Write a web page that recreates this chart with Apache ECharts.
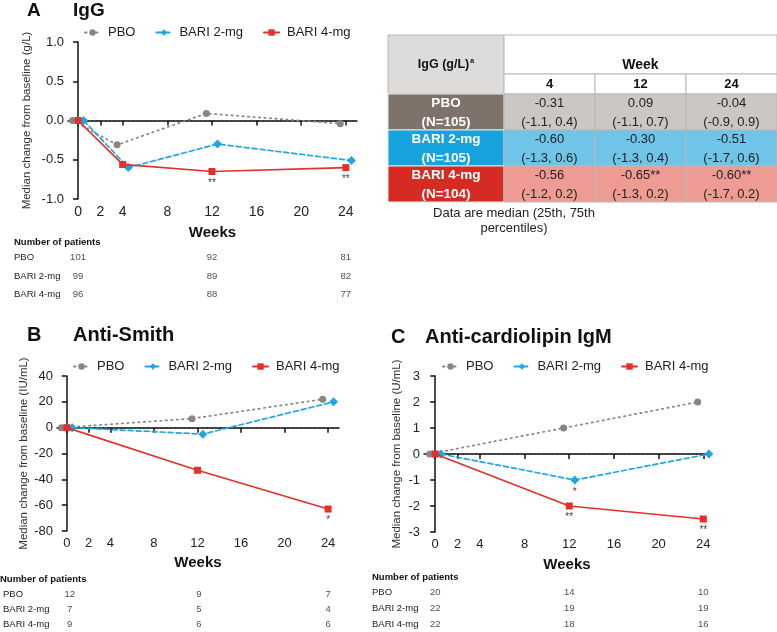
<!DOCTYPE html>
<html><head><meta charset="utf-8">
<script src="https://cdn.jsdelivr.net/npm/echarts@6/dist/echarts.min.js"></script>
<style>html,body{margin:0;padding:0;background:#fff}#c{width:777px;height:632px}</style>
</head><body><div id="c"></div><script>
// ---------- data ----------
const groups = ['PBO', 'BARI 2-mg', 'BARI 4-mg'];
const xTicks = [0, 2, 4, 8, 12, 16, 20, 24];
const countWeeks = [0, 12, 24];

// Panel A: IgG (g/L)
const igWeeks = [0, 4, 12, 24];
const igPBO = [0, -0.31, 0.09, -0.04];
const igB2  = [0, -0.60, -0.30, -0.51];
const igB4  = [0, -0.56, -0.65, -0.60];
const igSigB4 = ['', '', '**', '**'];
const igNPBO = [101, 92, 81];
const igNB2  = [99, 89, 82];
const igNB4  = [96, 88, 77];

// Panel B: Anti-Smith (IU/mL)
const smWeeks = [0, 12, 24];
const smPBO = [0, 7, 22];
const smB2  = [0, -5, 20];
const smB4  = [0, -33, -63];
const smSigB4 = ['', '', '*'];
const smNPBO = [12, 9, 7];
const smNB2  = [7, 5, 4];
const smNB4  = [9, 6, 6];

// Panel C: Anti-cardiolipin IgM (U/mL)
const clWeeks = [0, 12, 24];
const clPBO = [0, 1, 2];
const clB2  = [0, -1, 0];
const clB4  = [0, -2, -2.5];
const clSigB2 = ['', '*', ''];
const clSigB4 = ['', '**', '**'];
const clNPBO = [20, 14, 10];
const clNB2  = [22, 19, 19];
const clNB4  = [22, 18, 16];

// IgG table
const tblWeeks = ['4', '12', '24'];
const tblGroupN = ['(N=105)', '(N=105)', '(N=104)'];
const tblMedian = [['-0.31', '0.09', '-0.04'], ['-0.60', '-0.30', '-0.51'], ['-0.56', '-0.65**', '-0.60**']];
const tblIQR = [['(-1.1, 0.4)', '(-1.1, 0.7)', '(-0.9, 0.9)'], ['(-1.3, 0.6)', '(-1.3, 0.4)', '(-1.7, 0.6)'], ['(-1.2, 0.2)', '(-1.3, 0.2)', '(-1.7, 0.2)']];

// ---------- styles ----------
const FONT = 'Liberation Sans, Arial, sans-serif';
const STY = [
  { color: '#8c8480', type: [1.5, 4], symbol: 'circle', size: 7, dx: -0.5, z: 3 },
  { color: '#1ea7e1', type: [5, 3], symbol: 'diamond', size: 9, dx: 0.5, z: 4 },
  { color: '#e2302b', type: 'solid', symbol: 'rect', size: 7, dx: 0, z: 5 }
];

const chart = echarts.init(document.getElementById('c'), null, { renderer: 'canvas' });

const grids = [], xAxes = [], yAxes = [], series = [], legends = [], graphics = [];

function addPanel(p) {
  const gi = grids.length;
  grids.push({ left: p.left, right: p.right, top: p.top, bottom: p.bottom });
  xAxes.push({
    type: 'value', gridIndex: gi, min: p.xmin, max: p.xmax,
    name: 'Weeks', nameLocation: 'middle', nameGap: p.nameGapX,
    nameTextStyle: { fontFamily: FONT, fontWeight: 'bold', fontSize: 15, color: '#111' },
    axisLine: { lineStyle: { color: '#111', width: 1.5 } },
    axisTick: { customValues: xTicks, length: 5, lineStyle: { color: '#111', width: 1.5 } },
    axisLabel: { customValues: xTicks, fontFamily: FONT, fontSize: p.xFont, color: '#222', margin: 6 },
    splitLine: { show: false }
  });
  yAxes.push({
    type: 'value', gridIndex: gi, min: p.ymin, max: p.ymax, interval: p.yint,
    name: p.yName, nameLocation: 'middle', nameGap: p.nameGapY,
    nameTextStyle: { fontFamily: FONT, fontSize: 11.5, color: '#333' },
    axisLine: { show: true, lineStyle: { color: '#111', width: 1.5 } },
    axisTick: { show: true, length: 5, lineStyle: { color: '#111', width: 1.5 } },
    axisLabel: { fontFamily: FONT, fontSize: 13, color: '#222', margin: 4, formatter: p.yFmt },
    splitLine: { show: false }
  });
  const valsList = [p.pbo, p.b2, p.b4];
  const sigList = [null, p.sigB2, p.sigB4];
  valsList.forEach((vals, k) => {
    const st = STY[k];
    const s = {
      type: 'line', name: groups[k], xAxisIndex: gi, yAxisIndex: gi,
      symbol: st.symbol, symbolSize: st.size, z: st.z, animation: false,
      itemStyle: { color: st.color },
      lineStyle: { color: st.color, type: st.type, width: 1.7, cap: 'round' },
      data: p.weeks.map((w, i) => {
        const d = { value: [w + st.dx, vals[i]] };
        const sig = sigList[k];
        if (sig && sig[i]) {
          d.label = { show: true, position: 'bottom', distance: 3, formatter: sig[i], color: '#444', fontSize: 10, fontFamily: FONT };
        }
        return d;
      })
    };
    if (k === 0) {
      s.markLine = {
        silent: true, symbol: 'none', animation: false, z: 1,
        label: { show: false },
        lineStyle: { color: '#333', type: [1.5, 3], width: 1.5 },
        data: [[{ coord: [0, 0] }, { coord: [p.xmax, 0] }]]
      };
    }
    series.push(s);
  });
  legends.push({
    left: p.legLeft, top: p.legTop, padding: 0, itemWidth: 15, itemHeight: 8, itemGap: 20,
    selectedMode: false, data: groups,
    textStyle: { fontFamily: FONT, fontSize: 13, color: '#222', padding: [0, 0, 0, 3] }
  });

  // patient count table, aligned on the same week scale
  const ci = grids.length;
  grids.push({ left: p.left, right: p.right, top: p.cTop, height: p.cHeight });
  xAxes.push({ type: 'value', gridIndex: ci, min: p.xmin, max: p.xmax, show: false });
  yAxes.push({
    type: 'category', gridIndex: ci, data: groups, inverse: true,
    axisLine: { show: false }, axisTick: { show: false }, splitLine: { show: false },
    axisLabel: { align: 'left', margin: p.cMargin, fontFamily: FONT, fontSize: 9.5, color: '#222' }
  });
  const cdata = [];
  [p.nPBO, p.nB2, p.nB4].forEach((arr, k) => {
    arr.forEach((n, i) => cdata.push([countWeeks[i], groups[k], n]));
  });
  series.push({
    type: 'scatter', xAxisIndex: ci, yAxisIndex: ci, symbolSize: 0, silent: true, animation: false,
    data: cdata,
    label: { show: true, position: 'inside', formatter: q => String(q.value[2]), fontFamily: FONT, fontSize: 9.5, color: '#222' }
  });
  graphics.push({ type: 'text', x: p.cHeadX, y: p.cHeadY, style: { text: 'Number of patients', fontFamily: FONT, fontWeight: 'bold', fontSize: 9.5, fill: '#111', verticalAlign: 'middle' } });
  // panel title
  graphics.push({ type: 'text', x: p.letterX, y: p.titleY, style: { text: p.letter, fontFamily: FONT, fontWeight: 'bold', fontSize: p.titleSize, fill: '#111', verticalAlign: 'middle' } });
  graphics.push({ type: 'text', x: p.titleX, y: p.titleY, style: { text: p.title, fontFamily: FONT, fontWeight: 'bold', fontSize: p.titleSize, fill: '#111', verticalAlign: 'middle' } });
}

addPanel({
  left: 68, right: 420, top: 42, bottom: 433, xmin: -0.9, xmax: 25,
  ymin: -1, ymax: 1, yint: 0.5, yFmt: v => v.toFixed(1), yName: 'Median change from baseline (g/L)',
  nameGapX: 26, nameGapY: 35, xFont: 14,
  weeks: igWeeks, pbo: igPBO, b2: igB2, b4: igB4, sigB2: null, sigB4: igSigB4,
  legLeft: 84, legTop: 26,
  cTop: 248, cHeight: 56, cMargin: 54, nPBO: igNPBO, nB2: igNB2, nB4: igNB4, cHeadX: 14, cHeadY: 242,
  letter: 'A', letterX: 27, title: 'IgG', titleX: 73, titleY: 11, titleSize: 19
});
addPanel({
  left: 57, right: 438, top: 376, bottom: 101, xmin: -0.9, xmax: 25,
  ymin: -80, ymax: 40, yint: 20, yFmt: v => String(v), yName: 'Median change from baseline (IU/mL)',
  nameGapX: 24, nameGapY: 26, xFont: 13,
  weeks: smWeeks, pbo: smPBO, b2: smB2, b4: smB4, sigB2: null, sigB4: smSigB4,
  legLeft: 73, legTop: 360,
  cTop: 587, cHeight: 46, cMargin: 57, nPBO: smNPBO, nB2: smNB2, nB4: smNB4, cHeadX: 0, cHeadY: 579,
  letter: 'B', letterX: 27, title: 'Anti-Smith', titleX: 73, titleY: 335, titleSize: 20
});
addPanel({
  left: 424, right: 67, top: 376, bottom: 100, xmin: -1, xmax: 24.6,
  ymin: -3, ymax: 3, yint: 1, yFmt: v => String(v), yName: 'Median change from baseline (U/mL)',
  nameGapX: 25, nameGapY: 21, xFont: 13,
  weeks: clWeeks, pbo: clPBO, b2: clB2, b4: clB4, sigB2: clSigB2, sigB4: clSigB4,
  legLeft: 442, legTop: 360,
  cTop: 584, cHeight: 50, cMargin: 52, nPBO: clNPBO, nB2: clNB2, nB4: clNB4, cHeadX: 372, cHeadY: 577,
  letter: 'C', letterX: 391, title: 'Anti-cardiolipin IgM', titleX: 425, titleY: 337, titleSize: 20
});

// ---------- IgG summary table ----------
const TB = { x: 388, y: 35, cw: [116, 91, 91, 91], hTop: 39, hWeek: 20, rh: 36 };
const labelFill = ['#7f726b', '#17a3dd', '#d62b22'];
const valueFill = ['#cbc7c3', '#6fc4e7', '#ee9c93'];
const lineCol = '#b8b8b8';
const colX = [TB.x]; TB.cw.forEach((w, i) => colX.push(colX[i] + w));
const bodyTop = TB.y + TB.hTop + TB.hWeek;
// header
graphics.push({ type: 'rect', shape: { x: TB.x, y: TB.y, width: TB.cw[0], height: TB.hTop + TB.hWeek }, style: { fill: '#dedcda', stroke: lineCol, lineWidth: 1 } });
graphics.push({ type: 'rect', shape: { x: colX[1], y: TB.y, width: colX[4] - colX[1], height: TB.hTop }, style: { fill: '#fff', stroke: lineCol, lineWidth: 1 } });
graphics.push({ type: 'text', x: TB.x + TB.cw[0] / 2, y: TB.y + (TB.hTop + TB.hWeek) / 2, style: { text: '{b|IgG (g/L)}{s|a}', align: 'center', verticalAlign: 'middle', rich: { b: { fontFamily: FONT, fontWeight: 'bold', fontSize: 12.5, fill: '#111' }, s: { fontFamily: FONT, fontWeight: 'bold', fontSize: 7, fill: '#111', padding: [0, 0, 7, 1] } } } });
graphics.push({ type: 'text', x: (colX[1] + colX[4]) / 2, y: TB.y + TB.hTop - 9, style: { text: 'Week', align: 'center', verticalAlign: 'middle', fontFamily: FONT, fontWeight: 'bold', fontSize: 14, fill: '#111' } });
tblWeeks.forEach((w, j) => {
  graphics.push({ type: 'rect', shape: { x: colX[j + 1], y: TB.y + TB.hTop, width: TB.cw[j + 1], height: TB.hWeek }, style: { fill: '#fff', stroke: lineCol, lineWidth: 1 } });
  graphics.push({ type: 'text', x: colX[j + 1] + TB.cw[j + 1] / 2, y: TB.y + TB.hTop + TB.hWeek / 2, style: { text: w, align: 'center', verticalAlign: 'middle', fontFamily: FONT, fontWeight: 'bold', fontSize: 13, fill: '#111' } });
});
groups.forEach((g, r) => {
  const y0 = bodyTop + r * TB.rh;
  graphics.push({ type: 'rect', shape: { x: TB.x, y: y0, width: TB.cw[0], height: TB.rh }, style: { fill: labelFill[r], stroke: '#e8e8e8', lineWidth: 1 } });
  graphics.push({ type: 'text', x: TB.x + TB.cw[0] / 2, y: y0 + TB.rh / 2 + 1, style: { text: g + '\n' + tblGroupN[r], align: 'center', verticalAlign: 'middle', lineHeight: 19, fontFamily: FONT, fontWeight: 'bold', fontSize: 13.5, fill: '#fff' } });
  tblWeeks.forEach((w, j) => {
    graphics.push({ type: 'rect', shape: { x: colX[j + 1], y: y0, width: TB.cw[j + 1], height: TB.rh }, style: { fill: valueFill[r], stroke: lineCol, lineWidth: 1 } });
    graphics.push({ type: 'text', x: colX[j + 1] + TB.cw[j + 1] / 2, y: y0 + TB.rh / 2 + 1, style: { text: tblMedian[r][j] + '\n' + tblIQR[r][j], align: 'center', verticalAlign: 'middle', lineHeight: 19, fontFamily: FONT, fontSize: 13, fill: '#222' } });
  });
});
graphics.push({ type: 'text', x: 514, y: 221, style: { text: 'Data are median (25th, 75th\npercentiles)', align: 'center', verticalAlign: 'middle', lineHeight: 15, fontFamily: FONT, fontSize: 13, fill: '#222' } });

chart.setOption({
  animation: false,
  backgroundColor: '#fff',
  textStyle: { fontFamily: FONT },
  grid: grids, xAxis: xAxes, yAxis: yAxes, legend: legends, series: series,
  graphic: { elements: graphics }
});
</script></body></html>
